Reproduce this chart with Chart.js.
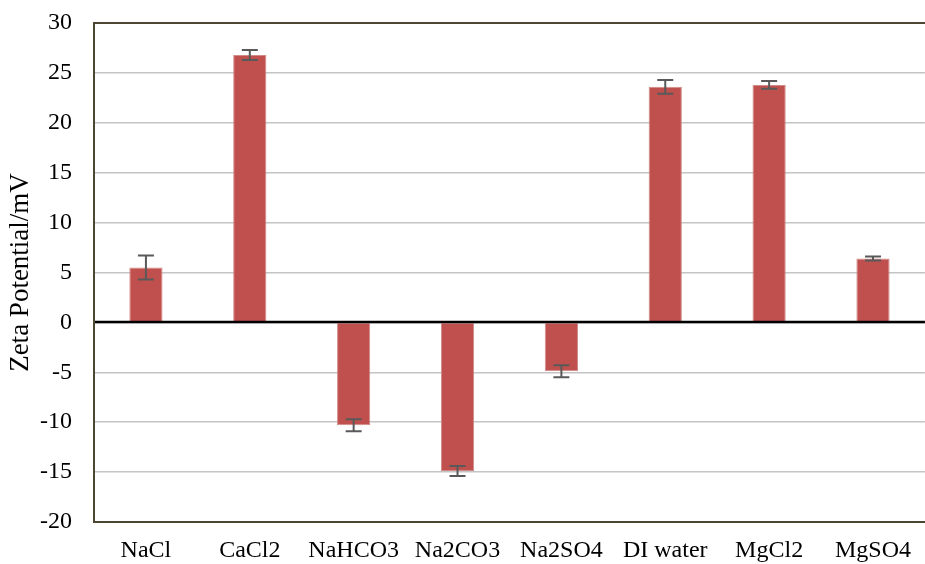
<!DOCTYPE html>
<html>
<head>
<meta charset="utf-8">
<script src="https://cdn.jsdelivr.net/npm/chart.js@4"></script>
<style>
  html, body { margin: 0; padding: 0; background: #ffffff; }
  #wrap { width: 925px; height: 564px; position: relative; }
</style>
</head>
<body>
<div id="wrap"><canvas id="c"></canvas></div>
<script>
const categories = ["NaCl", "CaCl2", "NaHCO3", "Na2CO3", "Na2SO4", "DI water", "MgCl2", "MgSO4"];
const zetaValues = [5.5, 26.8, -10.3, -14.9, -4.9, 23.6, 23.8, 6.4];
const zetaErrors = [1.2, 0.5, 0.6, 0.5, 0.6, 0.7, 0.4, 0.2];
const yTicks = [-20, -15, -10, -5, 0, 5, 10, 15, 20, 25, 30];
const yTitle = "Zeta Potential/mV";

const FONT = "'Liberation Serif', 'Times New Roman', serif";

const framePlugin = {
  id: 'frameAndErrors',
  afterDatasetsDraw(chart) {
    const ctx = chart.ctx;
    const a = chart.chartArea;
    const y = chart.scales.y;
    ctx.save();
    // zero line
    const y0 = Math.round(y.getPixelForValue(0));
    ctx.strokeStyle = '#000000';
    ctx.lineWidth = 2.5;
    ctx.beginPath();
    ctx.moveTo(a.left, y0);
    ctx.lineTo(a.right, y0);
    ctx.stroke();
    // error bars
    ctx.strokeStyle = '#595959';
    ctx.lineWidth = 2;
    const meta = chart.getDatasetMeta(0);
    meta.data.forEach((bar, i) => {
      const v = zetaValues[i], e = zetaErrors[i];
      const cx = bar.x;
      const yt = y.getPixelForValue(v + e);
      const yb = y.getPixelForValue(v - e);
      ctx.beginPath();
      ctx.moveTo(cx, yt); ctx.lineTo(cx, yb);
      ctx.moveTo(cx - 8, yt); ctx.lineTo(cx + 8, yt);
      ctx.moveTo(cx - 8, yb); ctx.lineTo(cx + 8, yb);
      ctx.stroke();
    });
    // frame
    ctx.strokeStyle = '#4d4632';
    ctx.lineWidth = 2;
    ctx.strokeRect(a.left, a.top, a.right - a.left + 2, a.bottom - a.top);
    ctx.restore();
  }
};

new Chart(document.getElementById('c'), {
  type: 'bar',
  data: {
    labels: categories,
    datasets: [{
      data: zetaValues,
      backgroundColor: '#C0504D',
      borderColor: '#D08B89',
      borderWidth: 1,
      barPercentage: 0.32,
      categoryPercentage: 1.0
    }]
  },
  options: {
    responsive: true,
    maintainAspectRatio: false,
    animation: false,
    devicePixelRatio: 1,
    layout: { padding: { top: 23, right: 0, left: 0, bottom: 0 } },
    plugins: { legend: { display: false }, tooltip: { enabled: false } },
    scales: {
      x: {
        grid: { display: false, drawTicks: false },
        border: { display: false },
        ticks: { color: '#000000', font: { family: FONT, size: 24 }, padding: 14, maxRotation: 0, autoSkip: false },
        afterFit(scale) { scale.height = 42; }
      },
      y: {
        min: -20, max: 30,
        afterBuildTicks(scale) { scale.ticks = yTicks.map(v => ({ value: v })); },
        grid: { color: '#C4C4C4', lineWidth: 1.5, drawTicks: true, tickLength: 22, tickColor: 'rgba(0,0,0,0)' },
        border: { display: false },
        ticks: { color: '#000000', font: { family: FONT, size: 24 }, padding: 0 },
        title: { display: true, text: yTitle, color: '#000000', font: { family: FONT, size: 27 }, padding: { top: 5, bottom: 4 } },
        afterFit(scale) { scale.width = 94; }
      }
    }
  },
  plugins: [framePlugin]
});
</script>
</body>
</html>
